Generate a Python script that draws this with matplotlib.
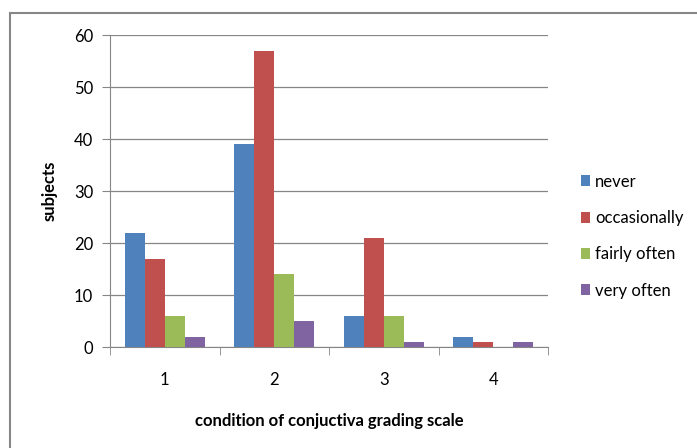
import numpy as np
import matplotlib.pyplot as plt
from matplotlib.patches import Rectangle

plt.rcParams['font.family'] = ['Lato', 'DejaVu Sans']

# data
groups = ['1', '2', '3', '4']
series = ['never', 'occasionally', 'fairly often', 'very often']
never = [22, 39, 6, 2]
occasionally = [17, 57, 21, 1]
fairly_often = [6, 14, 6, 0]
very_often = [2, 5, 1, 1]
colors = ['#4F81BD', '#C0504D', '#9BBB59', '#8064A2']

values = [never, occasionally, fairly_often, very_often]

fig = plt.figure(figsize=(6.97, 4.48), dpi=100)
ax = fig.add_axes([110 / 697, 101 / 448, 438 / 697, 312 / 448])

x = np.arange(len(groups))
w = 1 / 5.5
for i, (name, vals) in enumerate(zip(series, values)):
    ax.bar(x + (i - 1.5) * w, vals, w, color=colors[i], label=name, zorder=3)

ax.set_xlim(-0.5, 3.5)
ax.set_ylim(0, 60)
ax.set_yticks(range(0, 61, 10))
ax.yaxis.grid(True, color='#868686', linewidth=0.9, zorder=0)
ax.set_xticks(x)
ax.set_xticklabels(groups)
ax.set_xticks(np.arange(-0.5, 4, 1), minor=True)
ax.tick_params(axis='x', which='major', length=0, pad=18, labelsize=12)
ax.tick_params(axis='x', which='minor', length=6, color='#868686', direction='out')
ax.tick_params(axis='y', length=6, color='#868686', pad=6, labelsize=12)

for s in ['top', 'right']:
    ax.spines[s].set_visible(False)
for s in ['left', 'bottom']:
    ax.spines[s].set_color('#868686')

ax.set_ylabel('subjects', fontsize=12, fontweight='bold', labelpad=12)
ax.set_xlabel('condition of conjuctiva grading scale', fontsize=12,
              fontweight='bold', labelpad=18)

fig.legend(loc='upper left', bbox_to_anchor=(574 / 697, 1 - 167 / 448),
           frameon=False, fontsize=12, handlelength=0.55, handleheight=0.65,
           handletextpad=0.3, labelspacing=1.22, borderaxespad=0)

# outer chart border
fig.patches.append(Rectangle((9.5 / 697, -0.1), 2, 1.1 - 13 / 448,
                             transform=fig.transFigure, fill=False,
                             edgecolor='#878787', linewidth=1.5))

fig.savefig('out.png', dpi=100)
